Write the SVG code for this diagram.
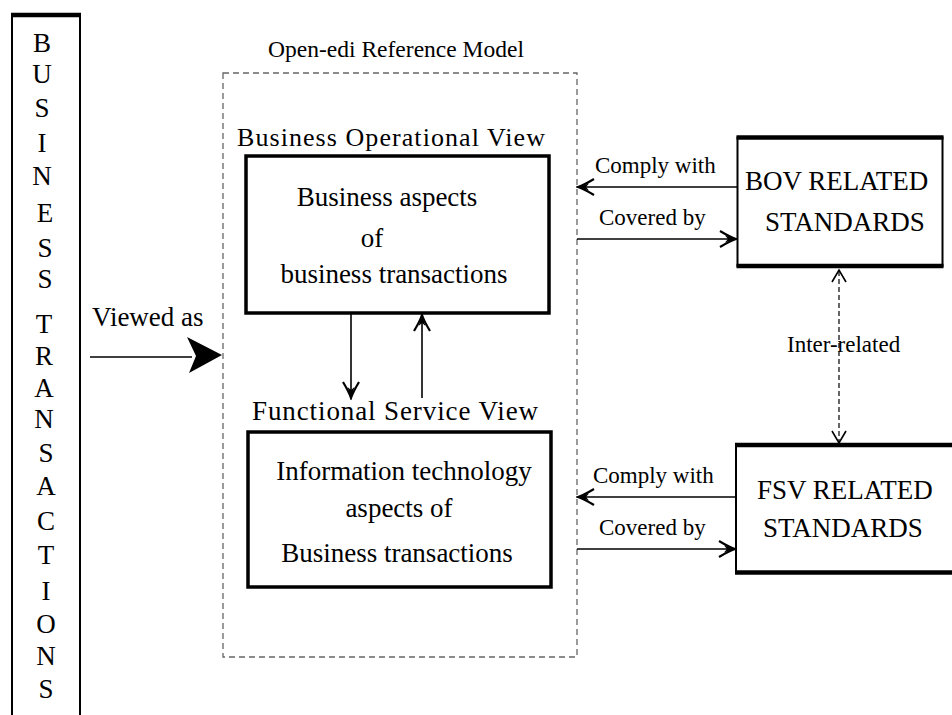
<svg xmlns="http://www.w3.org/2000/svg" width="952" height="715" viewBox="0 0 952 715">
<style>
text{font-family:"Liberation Serif","Times New Roman",serif;fill:#000}
.big{font-size:27px}
.lab{font-size:23px}
.mid{text-anchor:middle}
.ln{stroke:#000;stroke-width:1.6;fill:none}
.box{fill:#fff;stroke:#000;stroke-width:3.5}
.thin{fill:none;stroke:#000;stroke-width:2}
.thick{stroke:#000;stroke-width:4.5}
</style>
<defs>
<marker id="ah" viewBox="-20 -10 22 20" refX="0" refY="0" markerWidth="22" markerHeight="20" markerUnits="userSpaceOnUse" orient="auto">
<path d="M-16,-8 Q-6,-2 0,0 Q-6,2 -16,8" fill="none" stroke="#000" stroke-width="2.2"/>
<path d="M0,0 L-11,-3.5 L-8,0 L-11,3.5 Z" fill="#000"/>
</marker>
</defs>
<rect width="952" height="715" fill="#fff"/>

<g id="business-transactions">
<line class="thin" x1="12" y1="14" x2="12" y2="716"/>
<line class="thin" x1="80" y1="14" x2="80" y2="716"/>
<line class="thick" x1="11" y1="15" x2="81" y2="15"/>
<g class="big mid">
<text x="42" y="52">B</text>
<text x="42" y="83">U</text>
<text x="42" y="117">S</text>
<text x="42" y="152">I</text>
<text x="42" y="185">N</text>
<text x="45" y="222">E</text>
<text x="45" y="257">S</text>
<text x="45" y="288">S</text>
<text x="44" y="333">T</text>
<text x="44" y="365">R</text>
<text x="44" y="397">A</text>
<text x="44" y="428">N</text>
<text x="46" y="462">S</text>
<text x="46" y="495">A</text>
<text x="46" y="530">C</text>
<text x="46" y="564">T</text>
<text x="46" y="600">I</text>
<text x="46" y="633">O</text>
<text x="46" y="665">N</text>
<text x="46" y="698">S</text>
</g>
</g>

<g id="open-edi-model">
<rect x="223" y="73" width="354" height="584" fill="none" stroke="#666" stroke-width="1.3" stroke-dasharray="6,4"/>
<text class="lab" x="268" y="57" textLength="256" lengthAdjust="spacingAndGlyphs">Open-edi Reference Model</text>
</g>

<g id="bov">
<text x="237" y="146" style="font-size:26px" textLength="308" lengthAdjust="spacing">Business  Operational  View</text>
<rect class="box" x="246" y="156" width="303" height="157"/>
<text class="big mid" x="387" y="206">Business aspects</text>
<text class="big mid" x="372" y="247">of</text>
<text class="big mid" x="394" y="283">business transactions</text>
</g>

<g id="fsv">
<text class="big" x="252" y="420" textLength="286" lengthAdjust="spacing">Functional  Service  View</text>
<rect class="box" x="248" y="432" width="303" height="155"/>
<text class="big mid" x="404" y="480">Information technology</text>
<text class="big mid" x="399" y="517">aspects of</text>
<text class="big mid" x="397" y="562">Business transactions</text>
</g>

<g id="bov-standards">
<rect x="737.5" y="137.5" width="205" height="128.5" fill="#fff" stroke="#000" stroke-width="2"/>
<line class="thick" x1="736.5" y1="137.5" x2="943.5" y2="137.5"/>
<line class="thick" x1="736.5" y1="266" x2="943.5" y2="266"/>
<text class="big" x="745" y="190">BOV RELATED</text>
<text class="big" x="765" y="231">STANDARDS</text>
</g>

<g id="fsv-standards">
<rect x="736" y="445" width="230" height="127.5" fill="#fff" stroke="#000" stroke-width="2"/>
<line class="thick" x1="735" y1="445" x2="960" y2="445"/>
<line class="thick" x1="735" y1="572.5" x2="960" y2="572.5"/>
<text class="big" x="757" y="499">FSV RELATED</text>
<text class="big" x="763" y="537">STANDARDS</text>
</g>

<g id="connectors">
<line class="ln" x1="737" y1="187" x2="578" y2="187" marker-end="url(#ah)"/>
<text class="lab" x="595" y="173">Comply with</text>
<line class="ln" x1="577" y1="239" x2="736" y2="239" marker-end="url(#ah)"/>
<text class="lab" x="599" y="225">Covered by</text>
<line class="ln" x1="736" y1="497" x2="578" y2="497" marker-end="url(#ah)"/>
<text class="lab" x="593" y="483">Comply with</text>
<line class="ln" x1="577" y1="549" x2="735" y2="549" marker-end="url(#ah)"/>
<text class="lab" x="599" y="535">Covered by</text>
<line class="ln" x1="351" y1="314" x2="351" y2="398" marker-end="url(#ah)"/>
<line class="ln" x1="422" y1="398" x2="422" y2="315" marker-end="url(#ah)"/>
<line x1="839" y1="271" x2="839" y2="442" stroke="#000" stroke-width="1.2" stroke-dasharray="5,3"/>
<path d="M832,282 L839,270 L846,282 M832,431 L839,443 L846,431" class="ln"/>
<text class="lab" x="787" y="352">Inter-related</text>
<line class="ln" x1="90" y1="357" x2="192" y2="357"/>
<polygon points="187,337 222,355 189,373 196,356" fill="#000"/>
<text class="big" x="92" y="326">Viewed as</text>
</g>
</svg>
